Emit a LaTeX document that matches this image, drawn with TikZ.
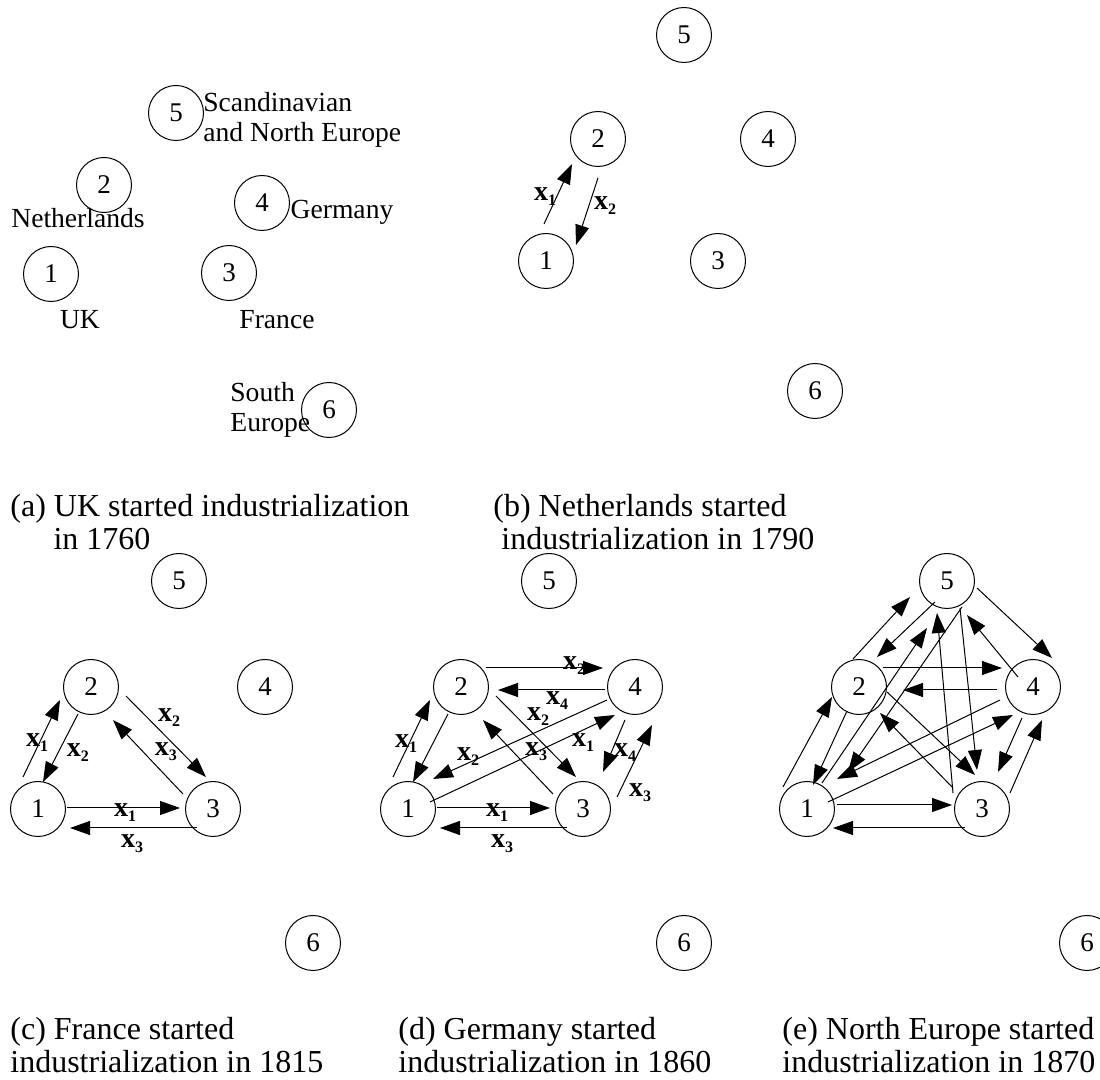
\documentclass[tikz,border=0pt]{standalone}
\usepackage{fontspec}
\setmainfont{Liberation Serif}
\usetikzlibrary{calc,arrows.meta}
\newcommand{\xsub}[1]{\textbf{x}\raisebox{-2.5pt}{\fontsize{8}{8}\selectfont\textbf{#1}}}
\begin{document}
\begin{tikzpicture}[x=0.5pt,y=-0.5pt,
	cty/.style={draw,circle,line width=0.5pt,minimum size=27.5pt,inner sep=0pt,
	font=\fontsize{13.5}{15}\selectfont},
	nm/.style={inner sep=0pt,align=left,font=\fontsize{13.8}{15}\selectfont},
	lab/.style={inner sep=0pt,font=\fontsize{14}{14}\selectfont},
	capt/.style={inner sep=0pt,anchor=north west,align=left,font=\fontsize{16}{16.5}\selectfont},
	arr/.style={line width=0.5pt,-{Triangle[length=10pt,width=7pt]}}]
\useasboundingbox (0,0) rectangle (1100,1080);

\node [cty] (a1) at (51,274) {1};
\node [cty] (a2) at (104,185) {2};
\node [cty] (a3) at (229,273) {3};
\node [cty] (a4) at (262,203) {4};
\node [cty] (a5) at (176,113) {5};
\node [cty] (a6) at (329,410) {6};
\node [nm, anchor=west] (sc) at (203,120) {Scandinavian\\and North Europe};
\node [nm] (nl) at (78,218) {Netherlands};
\node [nm] (de) at (342,212) {Germany};
\node [nm] (uk) at (80,320) {UK};
\node [nm] (fr) at (277,320) {France};
\node [nm, anchor=west] (se) at (230,410) {South\\Europe};
\node [capt] (capa) at (10,494) {(a) UK started industrialization\\\hspace*{1.35em}in 1760};

\node [cty] (b1) at (546,261) {1};
\node [cty] (b2) at (598,139) {2};
\node [cty] (b3) at (718,261) {3};
\node [cty] (b4) at (768,139) {4};
\node [cty] (b5) at (684,35) {5};
\node [cty] (b6) at (815,391) {6};
\draw [arr] ($(b1)+(-2,-37)$) -- ($(b2)+(-26,25)$);
\draw [arr] ($(b2)+(0,39)$) -- ($(b1)+(30,-16)$);
\node [lab] (xb1) at (545,197) {\xsub1};
\node [lab] (xb2) at (605,206) {\xsub2};
\node [capt] (capb) at (493,494) {(b) Netherlands started\\\hspace*{0.25em}industrialization in 1790};

\node [cty] (c1) at (38,809) {1};
\node [cty] (c2) at (91,687) {2};
\node [cty] (c3) at (213,809) {3};
\node [cty] (c4) at (265,687) {4};
\node [cty] (c5) at (179,581) {5};
\node [cty] (c6) at (313,943) {6};
\draw [arr] ($(c1)+(-15,-32)$) -- ($(c2)+(-31,13)$);
\draw [arr] ($(c2)+(-13,27)$) -- ($(c1)+(5,-27)$);
\draw [arr] ($(c2)+(35,9)$) -- ($(c3)+(-7,-32)$);
\draw [arr] ($(c3)+(-30,-15)$) -- ($(c2)+(22,33)$);
\draw [arr] ($(c1)+(29,-1)$) -- ($(c3)+(-33,-1)$);
\draw [arr] ($(c3)+(-16,19)$) -- ($(c1)+(32,19)$);
\node [lab] (xc1) at (37,743) {\xsub1};
\node [lab] (xc2) at (78,753) {\xsub2};
\node [lab] (xc3) at (169,718) {\xsub2};
\node [lab] (xc4) at (166,752) {\xsub3};
\node [lab] (xc5) at (125,813) {\xsub1};
\node [lab] (xc6) at (132,844) {\xsub3};
\node [capt] (capc) at (10,1017) {(c) France started\\industrialization in 1815};

\node [cty] (d1) at (408,809) {1};
\node [cty] (d2) at (461,687) {2};
\node [cty] (d3) at (583,809) {3};
\node [cty] (d4) at (635,687) {4};
\node [cty] (d5) at (549,581) {5};
\node [cty] (d6) at (684,943) {6};
\draw [arr] ($(d1)+(-15,-32)$) -- ($(d2)+(-31,13)$);
\draw [arr] ($(d2)+(-13,27)$) -- ($(d1)+(5,-27)$);
\draw [arr] ($(d2)+(35,9)$) -- ($(d3)+(-7,-32)$);
\draw [arr] ($(d3)+(-30,-15)$) -- ($(d2)+(22,33)$);
\draw [arr] ($(d1)+(29,-1)$) -- ($(d3)+(-33,-1)$);
\draw [arr] ($(d3)+(-16,19)$) -- ($(d1)+(32,19)$);
\draw [arr] ($(d2)+(25,-19)$) -- ($(d4)+(-32,-19)$);
\draw [arr] ($(d4)+(-30,3)$) -- ($(d2)+(37,3)$);
\draw [arr] ($(d4)+(-28,13)$) -- ($(d1)+(25,-30)$);
\draw [arr] ($(d1)+(22,-7)$) -- ($(d4)+(-20,28)$);
\draw [arr] ($(d4)+(-10,33)$) -- ($(d3)+(20,-37)$);
\draw [arr] ($(d3)+(34,-12)$) -- ($(d4)+(17,38)$);
\node [lab] (xd1) at (406,744) {\xsub1};
\node [lab] (xd2) at (574,666) {\xsub2};
\node [lab] (xd3) at (557,701) {\xsub4};
\node [lab] (xd4) at (538,717) {\xsub2};
\node [lab] (xd5) at (468,757) {\xsub2};
\node [lab] (xd6) at (536,752) {\xsub3};
\node [lab] (xd7) at (583,743) {\xsub1};
\node [lab] (xd8) at (625,753) {\xsub4};
\node [lab] (xd9) at (640,793) {\xsub3};
\node [lab] (xd10) at (497,813) {\xsub1};
\node [lab] (xd11) at (502,844) {\xsub3};
\node [capt] (capd) at (398,1017) {(d) Germany started\\industrialization in 1860};

\node [cty] (e1) at (807,809) {1};
\node [cty] (e2) at (859,687) {2};
\node [cty] (e3) at (982,809) {3};
\node [cty] (e4) at (1033,687) {4};
\node [cty] (e5) at (947,581) {5};
\node [cty] (e6) at (1087,943) {6};
\draw [arr] ($(e1)+(-24,-22)$) -- ($(e2)+(-27,10)$);
\draw [arr] ($(e2)+(-12,24)$) -- ($(e1)+(6,-24)$);
\draw [arr] ($(e2)+(-6,-28)$) -- ($(e5)+(-37,16)$);
\draw [arr] ($(e5)+(-12,21)$) -- ($(e2)+(18,-30)$);
\draw [arr] ($(e1)+(15,-26)$) -- ($(e5)+(-20,47)$);
\draw [arr] ($(e5)+(15,26)$) -- ($(e1)+(41,-37)$);
\draw [arr] ($(e3)+(-29,-16)$) -- ($(e5)+(-10,32)$);
\draw [arr] ($(e5)+(13,27)$) -- ($(e3)+(-5,-39)$);
\draw [arr] ($(e4)+(-15,-10)$) -- ($(e5)+(20,34)$);
\draw [arr] ($(e5)+(30,7)$) -- ($(e4)+(19,-29)$);
\draw [arr] ($(e2)+(24,-19)$) -- ($(e4)+(-31,-19)$);
\draw [arr] ($(e4)+(-36,3)$) -- ($(e2)+(44,3)$);
\draw [arr] ($(e2)+(28,5)$) -- ($(e3)+(-7,-34)$);
\draw [arr] ($(e3)+(-29,-21)$) -- ($(e2)+(21,26)$);
\draw [arr] ($(e1)+(21,-7)$) -- ($(e4)+(-20,28)$);
\draw [arr] ($(e4)+(-33,13)$) -- ($(e1)+(30,-30)$);
\draw [arr] ($(e4)+(-11,31)$) -- ($(e3)+(16,-37)$);
\draw [arr] ($(e3)+(28,-16)$) -- ($(e4)+(9,33)$);
\draw [arr] ($(e1)+(30,-4)$) -- ($(e3)+(-30,-4)$);
\draw [arr] ($(e3)+(-17,19)$) -- ($(e1)+(26,19)$);
\node [capt] (cape) at (782,1017) {(e) North Europe started\\industrialization in 1870};
\end{tikzpicture}
\end{document}
